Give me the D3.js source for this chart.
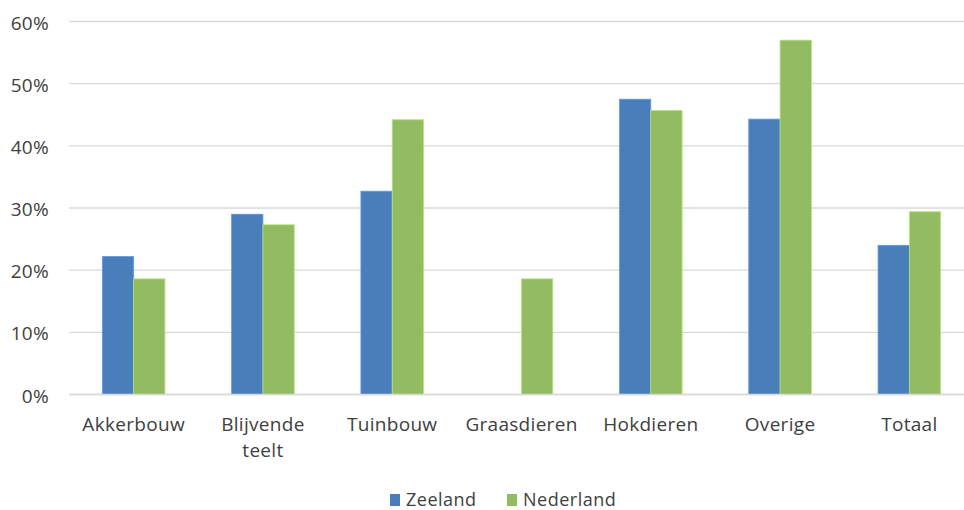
<!DOCTYPE html>
<html><head><meta charset="utf-8">
<script src="https://cdn.jsdelivr.net/npm/d3@7"></script>
<style>body{margin:0;background:#fff}svg{display:block}text{font-family:"Open Sans",sans-serif;fill:#404040}</style>
</head><body><svg id="c" width="964" height="510"></svg>
<script>
const categories = [["Akkerbouw"],["Blijvende","teelt"],["Tuinbouw"],["Graasdieren"],["Hokdieren"],["Overige"],["Totaal"]];
const series = ["Zeeland","Nederland"];
const zeeland = [22.2, 29.0, 32.7, 0, 47.5, 44.3, 24.0];
const nederland = [18.6, 27.3, 44.2, 18.6, 45.7, 57.0, 29.4];
const yTicks = [0,10,20,30,40,50,60];
const colors = ["#4a7ebb","#93bb62"];

const svg = d3.select("#c");
const x = d3.scaleBand().domain(d3.range(categories.length)).range([69, 974]);
const y = d3.scaleLinear().domain([0,60]).range([394.5, 21.5]);
const inner = d3.scaleBand().domain(series).range([0, 62.6]);
const innerOff = (x.bandwidth() - 62.6)/2;

svg.append("g").selectAll("line").data(yTicks).join("line")
  .attr("x1",69).attr("x2",964).attr("y1",d=>y(d)).attr("y2",d=>y(d))
  .attr("stroke","#d9d9d9").attr("stroke-width",1.3);

svg.append("g").selectAll("text").data(yTicks).join("text")
  .attr("x",49).attr("y",d=>y(d)+8).attr("text-anchor","end").attr("font-size",19)
  .attr("letter-spacing",0.3).text(d=>d+"%");

const data = [zeeland, nederland];
data.forEach((vals, si) => {
  svg.append("g").selectAll("rect").data(vals).join("rect")
    .attr("x",(d,i)=>x(i)+innerOff+inner(series[si]))
    .attr("width",inner.bandwidth())
    .attr("y",d=>y(d)).attr("height",d=>y(0)-y(d))
    .attr("fill",colors[si])
    .attr("stroke", d=> d>0 ? d3.color(colors[si]).brighter(0.6) : "none").attr("stroke-width",0.8);
});

svg.append("line").attr("x1",69).attr("x2",964).attr("y1",y(0)).attr("y2",y(0)).attr("stroke","#d9d9d9").attr("stroke-width",1.3);

const lab = svg.append("g").selectAll("text").data(categories).join("text")
  .attr("x",(d,i)=>x(i)+x.bandwidth()/2).attr("y",430.5).attr("text-anchor","middle").attr("font-size",19)
  .attr("letter-spacing",0.3);
lab.selectAll("tspan").data(d=>d).join("tspan")
  .attr("x",function(){return this.parentNode.getAttribute("x");})
  .attr("dy",(d,i)=>i===0?0:26).text(d=>d);

const legX = [390, 507];
series.forEach((s,i)=>{
  svg.append("rect").attr("x",legX[i]).attr("y",494).attr("width",10).attr("height",12).attr("fill",colors[i]);
  svg.append("text").attr("x",legX[i]+16).attr("y",506).attr("font-size",18).attr("letter-spacing",0.5).text(s);
});
</script></body></html>
